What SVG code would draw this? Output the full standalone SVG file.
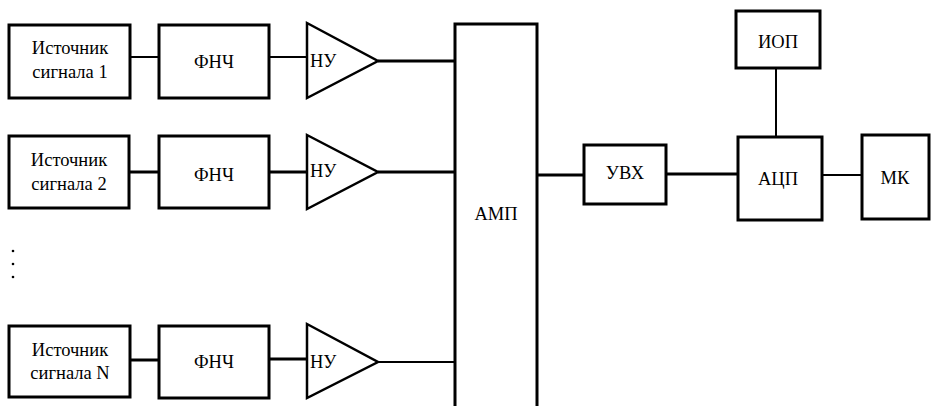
<svg xmlns="http://www.w3.org/2000/svg" width="931" height="406" viewBox="0 0 931 406">
<style>
.box{fill:#fff;stroke:#000;stroke-width:3}
.tri{fill:#fff;stroke:#000;stroke-width:2.5;stroke-linejoin:miter}
.w{stroke:#000;stroke-width:2;fill:none}
.t{stroke:#000;stroke-width:3;fill:none}
.c{text-anchor:middle}
.lbl{font-family:'Liberation Serif','DejaVu Serif',Tinos,'Times New Roman',serif;font-size:18.5px;fill:#000}
</style>
<rect width="931" height="406" fill="#fff"/>
<g id="connectors">
<line class="w" x1="130" y1="57" x2="159" y2="57"/>
<line class="w" x1="269" y1="57" x2="307" y2="57"/>
<line class="t" x1="378" y1="61" x2="455" y2="61"/>
<line class="t" x1="129" y1="172" x2="159" y2="172"/>
<line class="t" x1="269" y1="172" x2="307" y2="172"/>
<line class="t" x1="378" y1="172" x2="455" y2="172"/>
<line class="t" x1="130" y1="360" x2="159" y2="360"/>
<line class="t" x1="269" y1="359" x2="307" y2="359"/>
<line class="w" x1="378" y1="362" x2="455" y2="362"/>
<line class="t" x1="537" y1="175" x2="584" y2="175"/>
<line class="t" x1="666" y1="174" x2="738" y2="174"/>
<line class="w" x1="822" y1="175" x2="862" y2="175"/>
<line class="w" x1="776" y1="68" x2="776" y2="137"/>
</g>
<g id="src1"><rect class="box" x="9" y="25" width="121" height="73"/><text class="lbl c" x="70" y="54">Источник</text><text class="lbl c" x="70" y="78">сигнала 1</text></g>
<g id="fnch1"><rect class="box" x="159" y="25" width="110" height="73"/><text class="lbl c" x="214" y="68">ФНЧ</text></g>
<g id="nu1"><polygon class="tri" points="307,23 378,61 307,98"/><text class="lbl" x="310" y="67">НУ</text></g>
<g id="src2"><rect class="box" x="9" y="136" width="120" height="72"/><text class="lbl c" x="69" y="166">Источник</text><text class="lbl c" x="69" y="190">сигнала 2</text></g>
<g id="fnch2"><rect class="box" x="159" y="136" width="110" height="72"/><text class="lbl c" x="214" y="181">ФНЧ</text></g>
<g id="nu2"><polygon class="tri" points="307,135 378,172 307,209"/><text class="lbl" x="310" y="177">НУ</text></g>
<g id="dots"><circle cx="13" cy="251" r="1.3"/><circle cx="13" cy="264" r="1.3"/><circle cx="13" cy="277" r="1.3"/></g>
<g id="srcN"><rect class="box" x="9" y="326" width="121" height="71"/><text class="lbl c" x="70" y="356">Источник</text><text class="lbl c" x="70" y="379">сигнала N</text></g>
<g id="fnchN"><rect class="box" x="159" y="326" width="110" height="72"/><text class="lbl c" x="214" y="368">ФНЧ</text></g>
<g id="nuN"><polygon class="tri" points="307,324 378,362 307,398"/><text class="lbl" x="310" y="368">НУ</text></g>
<g id="amp"><rect class="box" x="455" y="24" width="82" height="400"/><text class="lbl c" x="496" y="220">АМП</text></g>
<g id="uvh"><rect class="box" x="584" y="145" width="82" height="59"/><text class="lbl c" x="625" y="179">УВХ</text></g>
<g id="iop"><rect class="box" x="736" y="11" width="84" height="57"/><text class="lbl c" x="778" y="48">ИОП</text></g>
<g id="acp"><rect class="box" x="738" y="137" width="84" height="83"/><text class="lbl c" x="778" y="185">АЦП</text></g>
<g id="mk"><rect class="box" x="862" y="135" width="67" height="84"/><text class="lbl c" x="895" y="184">МК</text></g>
</svg>
